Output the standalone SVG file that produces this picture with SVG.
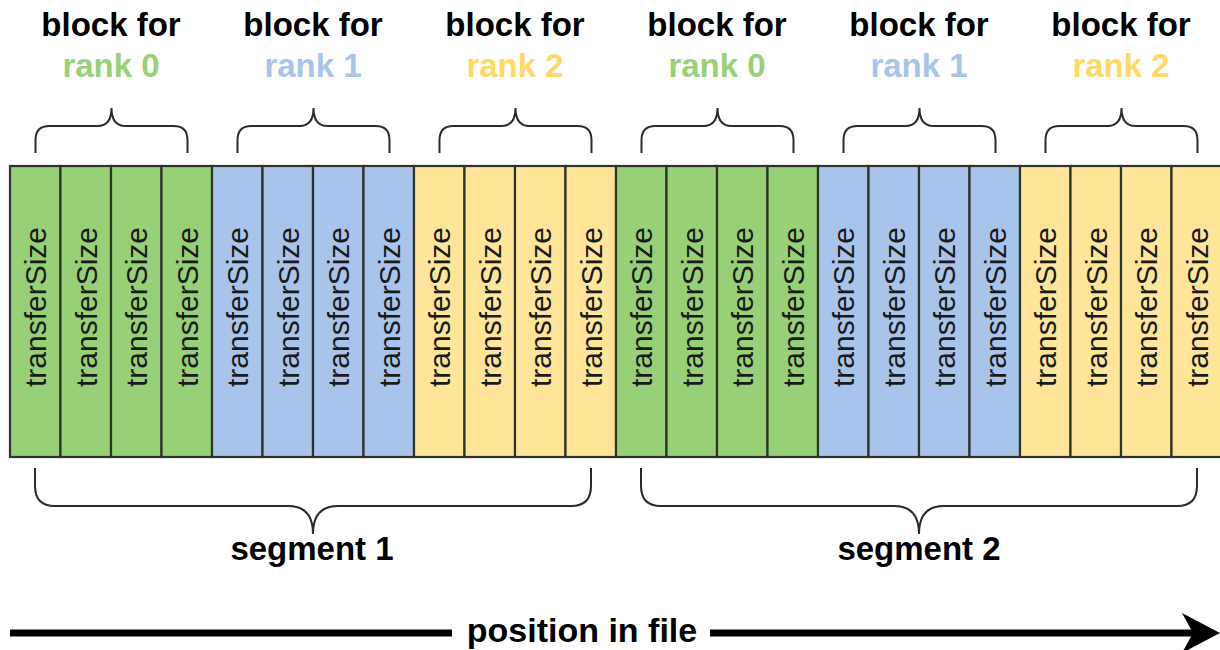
<svg xmlns="http://www.w3.org/2000/svg" xmlns:xlink="http://www.w3.org/1999/xlink" width="1220" height="650" viewBox="0 0 1220 650">
<style>
.cell{stroke:#2d332b;stroke-width:2.2}
.g{fill:#97D077}.b{fill:#A9C4EB}.y{fill:#FFE599}
.ts{font-family:"Liberation Sans",Arial,sans-serif;font-size:30px;fill:#1a1a1a;text-anchor:middle}
.lbl{font-family:"Liberation Sans",Arial,sans-serif;font-size:33px;font-weight:bold;text-anchor:middle;fill:#000}
.tg{fill:#97D077}.tb{fill:#A9C4EB}.ty{fill:#FFD966}
.brace{fill:none;stroke:#2b2b2b;stroke-width:2}
</style>
<defs>
<path id="topBrace" d="M -76 153 V 140 Q -76 126 -62 126 H -14 Q 0 126 0 108 Q 0 126 14 126 H 62 Q 76 126 76 140 V 153"/>
<path id="segBrace" d="M -278 468 V 486 Q -278 506 -258 506 H -25 Q 0 506 0 534 Q 0 506 25 506 H 258 Q 278 506 278 486 V 468"/>
</defs>
<rect width="1220" height="650" fill="#fff"/>

<g id="cells">
<g id="cell-0"><rect class="cell g" x="10" y="166" width="50.5" height="291"/><text class="ts" transform="translate(35.25,307) rotate(-90)" y="11">transferSize</text></g>
<g id="cell-1"><rect class="cell g" x="60.5" y="166" width="50.5" height="291"/><text class="ts" transform="translate(85.75,307) rotate(-90)" y="11">transferSize</text></g>
<g id="cell-2"><rect class="cell g" x="111" y="166" width="50.5" height="291"/><text class="ts" transform="translate(136.25,307) rotate(-90)" y="11">transferSize</text></g>
<g id="cell-3"><rect class="cell g" x="161.5" y="166" width="50.5" height="291"/><text class="ts" transform="translate(186.75,307) rotate(-90)" y="11">transferSize</text></g>
<g id="cell-4"><rect class="cell b" x="212" y="166" width="50.5" height="291"/><text class="ts" transform="translate(237.25,307) rotate(-90)" y="11">transferSize</text></g>
<g id="cell-5"><rect class="cell b" x="262.5" y="166" width="50.5" height="291"/><text class="ts" transform="translate(287.75,307) rotate(-90)" y="11">transferSize</text></g>
<g id="cell-6"><rect class="cell b" x="313" y="166" width="50.5" height="291"/><text class="ts" transform="translate(338.25,307) rotate(-90)" y="11">transferSize</text></g>
<g id="cell-7"><rect class="cell b" x="363.5" y="166" width="50.5" height="291"/><text class="ts" transform="translate(388.75,307) rotate(-90)" y="11">transferSize</text></g>
<g id="cell-8"><rect class="cell y" x="414" y="166" width="50.5" height="291"/><text class="ts" transform="translate(439.25,307) rotate(-90)" y="11">transferSize</text></g>
<g id="cell-9"><rect class="cell y" x="464.5" y="166" width="50.5" height="291"/><text class="ts" transform="translate(489.75,307) rotate(-90)" y="11">transferSize</text></g>
<g id="cell-10"><rect class="cell y" x="515" y="166" width="50.5" height="291"/><text class="ts" transform="translate(540.25,307) rotate(-90)" y="11">transferSize</text></g>
<g id="cell-11"><rect class="cell y" x="565.5" y="166" width="50.5" height="291"/><text class="ts" transform="translate(590.75,307) rotate(-90)" y="11">transferSize</text></g>
<g id="cell-12"><rect class="cell g" x="616" y="166" width="50.5" height="291"/><text class="ts" transform="translate(641.25,307) rotate(-90)" y="11">transferSize</text></g>
<g id="cell-13"><rect class="cell g" x="666.5" y="166" width="50.5" height="291"/><text class="ts" transform="translate(691.75,307) rotate(-90)" y="11">transferSize</text></g>
<g id="cell-14"><rect class="cell g" x="717" y="166" width="50.5" height="291"/><text class="ts" transform="translate(742.25,307) rotate(-90)" y="11">transferSize</text></g>
<g id="cell-15"><rect class="cell g" x="767.5" y="166" width="50.5" height="291"/><text class="ts" transform="translate(792.75,307) rotate(-90)" y="11">transferSize</text></g>
<g id="cell-16"><rect class="cell b" x="818" y="166" width="50.5" height="291"/><text class="ts" transform="translate(843.25,307) rotate(-90)" y="11">transferSize</text></g>
<g id="cell-17"><rect class="cell b" x="868.5" y="166" width="50.5" height="291"/><text class="ts" transform="translate(893.75,307) rotate(-90)" y="11">transferSize</text></g>
<g id="cell-18"><rect class="cell b" x="919" y="166" width="50.5" height="291"/><text class="ts" transform="translate(944.25,307) rotate(-90)" y="11">transferSize</text></g>
<g id="cell-19"><rect class="cell b" x="969.5" y="166" width="50.5" height="291"/><text class="ts" transform="translate(994.75,307) rotate(-90)" y="11">transferSize</text></g>
<g id="cell-20"><rect class="cell y" x="1020" y="166" width="50.5" height="291"/><text class="ts" transform="translate(1045.25,307) rotate(-90)" y="11">transferSize</text></g>
<g id="cell-21"><rect class="cell y" x="1070.5" y="166" width="50.5" height="291"/><text class="ts" transform="translate(1095.75,307) rotate(-90)" y="11">transferSize</text></g>
<g id="cell-22"><rect class="cell y" x="1121" y="166" width="50.5" height="291"/><text class="ts" transform="translate(1146.25,307) rotate(-90)" y="11">transferSize</text></g>
<g id="cell-23"><rect class="cell y" x="1171.5" y="166" width="50.5" height="291"/><text class="ts" transform="translate(1196.75,307) rotate(-90)" y="11">transferSize</text></g>
</g>

<g id="block-labels">
<g id="label-block-0"><text class="lbl" x="111" y="36">block for</text><text class="lbl tg" x="111" y="77">rank 0</text></g>
<g id="label-block-1"><text class="lbl" x="313" y="36">block for</text><text class="lbl tb" x="313" y="77">rank 1</text></g>
<g id="label-block-2"><text class="lbl" x="515" y="36">block for</text><text class="lbl ty" x="515" y="77">rank 2</text></g>
<g id="label-block-3"><text class="lbl" x="717" y="36">block for</text><text class="lbl tg" x="717" y="77">rank 0</text></g>
<g id="label-block-4"><text class="lbl" x="919" y="36">block for</text><text class="lbl tb" x="919" y="77">rank 1</text></g>
<g id="label-block-5"><text class="lbl" x="1121" y="36">block for</text><text class="lbl ty" x="1121" y="77">rank 2</text></g>
</g>

<g id="block-braces" class="brace">
<use xlink:href="#topBrace" href="#topBrace" transform="translate(111.5,0)"/>
<use xlink:href="#topBrace" href="#topBrace" transform="translate(313.5,0)"/>
<use xlink:href="#topBrace" href="#topBrace" transform="translate(515.5,0)"/>
<use xlink:href="#topBrace" href="#topBrace" transform="translate(717.5,0)"/>
<use xlink:href="#topBrace" href="#topBrace" transform="translate(919.5,0)"/>
<use xlink:href="#topBrace" href="#topBrace" transform="translate(1121.5,0)"/>
</g>

<g id="segment-1">
<use class="brace" xlink:href="#segBrace" href="#segBrace" transform="translate(313,0)"/>
<text class="lbl" x="312" y="560">segment 1</text>
</g>
<g id="segment-2">
<use class="brace" xlink:href="#segBrace" href="#segBrace" transform="translate(919,0)"/>
<text class="lbl" x="919" y="560">segment 2</text>
</g>

<g id="connectors">
<line x1="10" y1="633" x2="452" y2="633" stroke="#000" stroke-width="7"/>
<line x1="710" y1="633" x2="1194" y2="633" stroke="#000" stroke-width="7"/>
<polygon points="1220,633 1182,613 1193,633 1182,653" fill="#000"/>
<text class="lbl" x="582" y="642" style="font-size:34px">position in file</text>
</g>
</svg>
